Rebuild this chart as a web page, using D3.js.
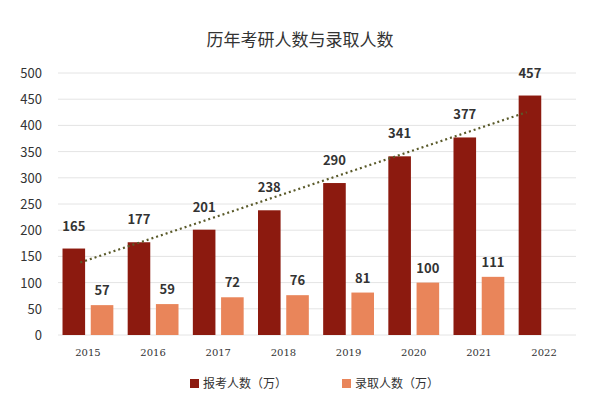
<!DOCTYPE html><html><head><meta charset="utf-8"><script src="https://cdn.jsdelivr.net/npm/d3@7"></script>
<style>body{margin:0;background:#fff}</style></head><body><svg id="c" width="600" height="400"></svg>
<script>
const years=["2015","2016","2017","2018","2019","2020","2021","2022"];
const applicants=[165,177,201,238,290,341,377,457];
const admitted=[57,59,72,76,81,100,111,null];
const yTicks=[0,50,100,150,200,250,300,350,400,450,500];
const seriesNames=["报考人数（万）","录取人数（万）"];
const colors=["#8c1a0f","#e9855a"];
const svg=d3.select("#c");
const font="'Noto Sans CJK SC','Noto Sans',sans-serif";
const x=d3.scaleBand().domain(years).range([56,576]).paddingInner(0.22).paddingOuter(0.1);
const xs=d3.scaleBand().domain([0,1]).range([0,x.bandwidth()]).paddingInner(0.2);
const y=d3.scaleLinear().domain([0,500]).range([335,73]);
svg.append("text").attr("x",300).attr("y",46).attr("text-anchor","middle").attr("font-family",font).attr("font-size",17).attr("fill","#333").text("历年考研人数与录取人数");
svg.append("g").selectAll("line").data(yTicks).join("line").attr("x1",58).attr("x2",576).attr("y1",d=>y(d)).attr("y2",d=>y(d)).attr("stroke","#e4e4e4");
svg.append("g").selectAll("text").data(yTicks).join("text").attr("x",42).attr("y",d=>y(d)+5).attr("text-anchor","end").attr("font-family",font).attr("font-size",13).attr("fill","#333").text(d=>d);
const g=svg.append("g");
[applicants,admitted].forEach((arr,si)=>{
  years.forEach((yr,i)=>{
    const v=arr[i]; if(v==null) return;
    const bx=x(yr)+xs(si);
    g.append("rect").attr("x",bx).attr("y",y(v)).attr("width",xs.bandwidth()).attr("height",y(0)-y(v)).attr("fill",colors[si]);
    g.append("text").attr("x",bx+xs.bandwidth()/2).attr("y",y(v)-(si==0?18:10)).attr("text-anchor","middle").attr("font-family",font).attr("font-size",13).attr("font-weight",600).attr("fill","#333").text(v);
  });
});
svg.append("g").selectAll("text").data(years).join("text").attr("x",d=>x(d)+x.bandwidth()/2).attr("y",356).attr("text-anchor","middle").attr("font-family","'DejaVu Serif',serif").attr("font-size",10).attr("fill","#333").text(d=>d);
const n=applicants.length,mx=(n-1)/2,my=d3.mean(applicants);
const slope=d3.sum(applicants,(v,i)=>(i-mx)*(v-my))/d3.sum(applicants,(v,i)=>(i-mx)**2);
const ic=my-slope*mx;
const cx=i=>x(years[0])+xs(0)+xs.bandwidth()/2+i*x.step();
const t0=0.1,t1=6.95;
svg.append("line").attr("x1",cx(t0)).attr("y1",y(ic+slope*t0)).attr("x2",cx(t1)).attr("y2",y(ic+slope*t1)).attr("stroke","#5a5a2a").attr("stroke-width",2.2).attr("stroke-dasharray","2,3");
const lg=svg.append("g");
[[190,0],[342,1]].forEach(([lx,i])=>{
  lg.append("rect").attr("x",lx).attr("y",379).attr("width",9).attr("height",9).attr("fill",colors[i]);
  lg.append("text").attr("x",lx+13).attr("y",388).attr("font-family",font).attr("font-size",12).attr("fill","#333").text(seriesNames[i]);
});
</script></body></html>
